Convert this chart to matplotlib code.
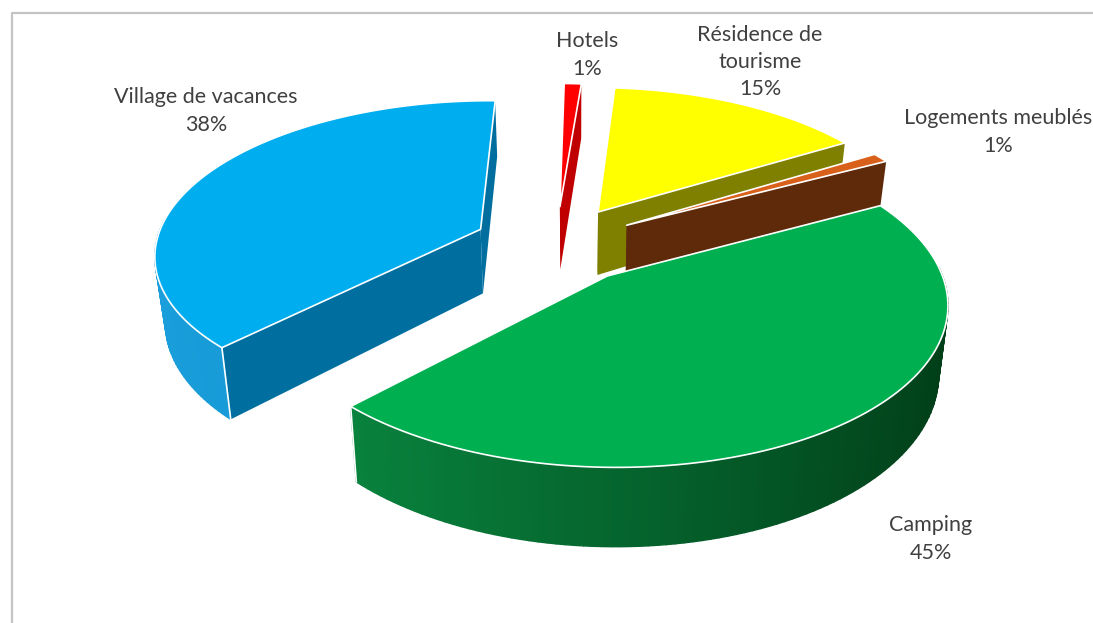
import numpy as np
import matplotlib
matplotlib.use('Agg')
import matplotlib.pyplot as plt
from matplotlib.patches import Polygon

plt.rcParams['font.family'] = ['Lato', 'DejaVu Sans']

labels = ['Hotels', 'Résidence de\ntourisme', 'Logements meublés', 'Camping', 'Village de vacances']
values = [1, 15, 1, 45, 38]
top_colors = ['#ff0000', '#ffff00', '#d9601a', '#00b050', '#00aeef']
radial_colors = ['#c00000', '#808000', '#5f2a0a', '#0a7a3a', '#006f9f']
wall_left = ['#ff0000', '#808000', '#8a4010', '#0a8f44', '#1a9fdc']
wall_right = ['#b00000', '#808000', '#5f2a0a', '#013d18', '#0c86bd']
label_xy = [(587, 55), (760, 62), (998, 132), (931, 539), (206, 111)]

# projection settings, fitted by eye
start_angle = 89
explode = 0.255
cx, cy = 556, 244
rx, ry = 325, 152
persp = 0.15
depth = 65
# walls lean in a little towards the bottom
lean = 0.975
lean_x = 575


def project(x, y):
    s = 1 / (1 + persp * y)
    return cx + rx * x * s, cy - ry * y * s, depth * s


def foot(x):
    return lean_x + (x - lean_x) * lean


def lerp_color(c1, c2, f):
    a = np.array(matplotlib.colors.to_rgb(c1))
    b = np.array(matplotlib.colors.to_rgb(c2))
    return a + (b - a) * f


def draw_slice(ax, t0, t1, i):
    # t0 > t1, going clockwise
    mid = np.radians((t0 + t1) / 2)
    ox, oy = explode * np.cos(mid), explode * np.sin(mid)
    t = np.radians(np.linspace(t0, t1, 120))
    X, Y, D = project(ox + np.cos(t), oy + np.sin(t))
    ax0, ay0, ad0 = project(ox, oy)

    # radial faces, the one further back goes first
    faces = []
    for k in (0, -1):
        pts = [(ax0, ay0), (X[k], Y[k]), (foot(X[k]), Y[k] + D[k]), (foot(ax0), ay0 + ad0)]
        faces.append(pts)
    faces.sort(key=lambda p: p[1][1] + p[0][1])
    for pts in faces:
        ax.add_patch(Polygon(pts, closed=True, fc=radial_colors[i], ec='none', zorder=i_z[i]))

    # outer wall only where it faces the viewer
    for j in range(len(t) - 1):
        if np.sin(t[j]) > 0.05 and np.sin(t[j + 1]) > 0.05:
            continue
        f = (np.cos(t[j]) + 1) / 2
        col = lerp_color(wall_left[i], wall_right[i], f)
        quad = [(X[j], Y[j]), (X[j + 1], Y[j + 1]),
                (foot(X[j + 1]), Y[j + 1] + D[j + 1]), (foot(X[j]), Y[j] + D[j])]
        ax.add_patch(Polygon(quad, closed=True, fc=col, ec=col, lw=1.0, zorder=i_z[i] + 0.1))

    # white edges where a radial face meets the wall
    for k in (0, -1):
        if np.sin(t[k]) < 0:
            ax.plot([X[k], foot(X[k])], [Y[k], Y[k] + D[k]], color='white', lw=1.2, zorder=i_z[i] + 0.2)

    top = list(zip(X, Y)) + [(ax0, ay0)]
    ax.add_patch(Polygon(top, closed=True, fc=top_colors[i], ec='white', lw=1.2,
                         joinstyle='round', zorder=i_z[i] + 0.3))


# painter order: back to front
i_z = {0: 2, 1: 3, 2: 4, 4: 5, 3: 6}

fig = plt.figure(figsize=(10.93, 6.23), dpi=100)
ax = fig.add_axes([0, 0, 1, 1])
ax.set_xlim(0, 1093)
ax.set_ylim(623, 0)
ax.axis('off')

# chart frame
ax.plot([11.5, 11.5, 1093], [623, 13, 13], color='#c4c4c4', lw=1.6, zorder=1)

sweep = np.array(values) / sum(values) * 360
angle = start_angle
for i, v in enumerate(sweep):
    draw_slice(ax, angle, angle - v, i)
    angle -= v

for name, v, (x, y) in zip(labels, values, label_xy):
    ax.text(x, y, f'{name}\n{v}%', ha='center', va='center', fontsize=15.5,
            color='#404040', linespacing=1.45, zorder=10)

fig.savefig('out.png', dpi=100)
